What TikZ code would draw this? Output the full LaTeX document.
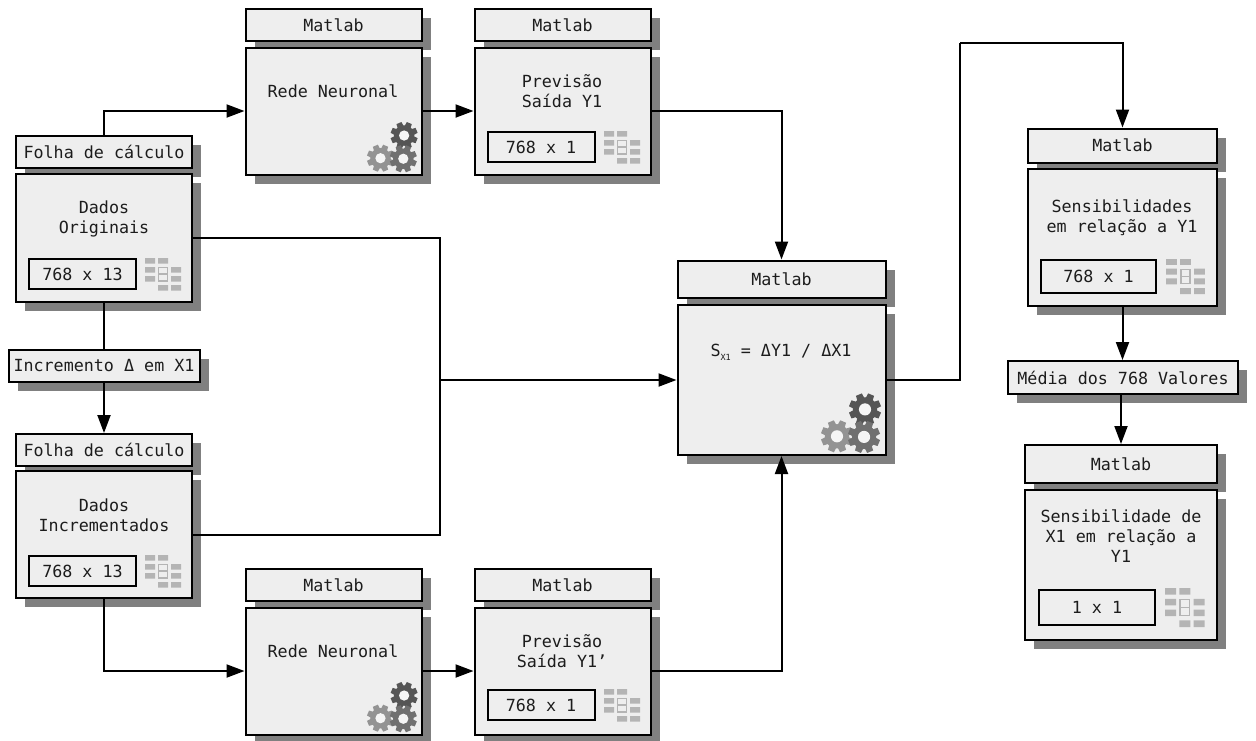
\documentclass[tikz,border=0pt]{standalone}
\usepackage{fontspec}
\setmainfont{DejaVu Sans Mono}
\usetikzlibrary{arrows.meta,shadows}
\definecolor{boxfill}{HTML}{EEEEEE}
\definecolor{shade}{HTML}{808080}
\definecolor{txt}{HTML}{1C1C1C}
\definecolor{cell}{HTML}{B4B4B4}
\definecolor{gearA}{HTML}{555555}
\definecolor{gearB}{HTML}{707070}
\definecolor{gearC}{HTML}{939393}
\newcommand{\lblfont}{\fontsize{16.7}{20}\selectfont}
\tikzset{
  boxbase/.style={draw=black,line width=2pt,fill=boxfill,text=txt,inner sep=0pt,align=center,font=\lblfont},
  shadowbox/.style={boxbase,drop shadow={shadow xshift=9pt,shadow yshift=-9pt,fill=shade,opacity=1}},
  databox/.style={draw=black,line width=2pt,fill=boxfill,text=txt,inner sep=0pt,font=\lblfont},
  label/.style={text=txt,font=\lblfont,align=center,inner sep=0pt},
  flow/.style={draw=black,line width=2pt,-{Triangle[length=18pt,width=13pt]}},
  plainflow/.style={draw=black,line width=2pt},
}
% \gearicon{x}{y}{radius}{colour}
\newcommand{\gearicon}[4]{%
  \begin{scope}[shift={(#1,#2)}]
    \foreach \a in {0,45,...,315}{
      \fill[#4,rotate=\a+22.5] (-#3*0.3,0) -- (-#3*0.2,#3) -- (#3*0.2,#3) -- (#3*0.3,0) -- cycle;
    }
    \fill[#4] (0,0) circle[radius=#3*0.76];
    \fill[boxfill!60!white] (0,0) circle[radius=#3*0.38];
  \end{scope}}
% \gears{corner x}{corner y}{radius}
\newcommand{\gears}[3]{%
  \gearicon{#1-3.0*#3}{#2-1.17*#3}{#3}{gearC}
  \gearicon{#1-1.25*#3}{#2-2.85*#3}{#3}{gearA}
  \gearicon{#1-1.31*#3}{#2-1.13*#3}{#3}{gearB}}
% \gridicon{x}{y}{xscale}{yscale}
\newcommand{\gridicon}[4]{%
  \begin{scope}[shift={(#1,#2)},xscale=#3,yscale=#4]
    \fill[cell] (0,0) rectangle +(10,5.5) (13,0) rectangle +(10,5.5);
    \fill[cell] (0,9) rectangle +(10,5.5) (26,9) rectangle +(10,5.5);
    \fill[cell] (0,18) rectangle +(10,5.5) (26,18) rectangle +(10,5.5);
    \fill[cell] (13,27) rectangle +(10,5.5) (26,27) rectangle +(10,5.5);
    \draw[cell,line width=1.4pt] (13.7,9.7) rectangle (22.3,22.8);
    \draw[cell,line width=1.4pt] (13.7,16) -- (22.3,16);
  \end{scope}}
\begin{document}
\begin{tikzpicture}[x=1pt,y=-1pt]
\useasboundingbox (0,0) rectangle (1256,740);
% left column
\node[shadowbox,minimum width=176pt,minimum height=32pt] (folhaA) at (104,152) {Folha de cálculo};
\node[shadowbox,minimum width=176pt,minimum height=128pt] (orig) at (104,238) {};
\node[label] (origT) at (104,219) {Dados\\Originais};
\node[databox,minimum width=107pt,minimum height=30pt] (origD) at (82.5,274) {768 x 13};
\gridicon{145}{258}{1}{1}
\node[shadowbox,minimum width=191pt,minimum height=32pt] (incr) at (104,366) {Incremento Δ em X1};
\node[shadowbox,minimum width=176pt,minimum height=32pt] (folhaB) at (104,450) {Folha de cálculo};
\node[shadowbox,minimum width=176pt,minimum height=127pt] (inc) at (104,534.5) {};
\node[label] (incT) at (104,515) {Dados\\Incrementados};
\node[databox,minimum width=107pt,minimum height=30pt] (incD) at (82.5,571) {768 x 13};
\gridicon{145}{555}{1}{1}
% top row
\node[shadowbox,minimum width=176pt,minimum height=32pt] (hA) at (333.5,25) {Matlab};
\node[shadowbox,minimum width=176pt,minimum height=127pt] (redeA) at (333.5,111) {};
\node[label] (redeAT) at (333,91.5) {Rede Neuronal};
\gears{421}{174}{13.5}
\node[shadowbox,minimum width=176pt,minimum height=32pt] (hB) at (562.5,25) {Matlab};
\node[shadowbox,minimum width=176pt,minimum height=127pt] (prevA) at (562.5,111) {};
\node[label] (prevAT) at (562,91) {Previsão\\Saída Y1};
\node[databox,minimum width=107pt,minimum height=30pt] (prevAD) at (541,147) {768 x 1};
\gridicon{604}{131}{1}{1}
% bottom row
\node[shadowbox,minimum width=176pt,minimum height=32pt] (hC) at (333.5,585) {Matlab};
\node[shadowbox,minimum width=176pt,minimum height=127pt] (redeB) at (333.5,671) {};
\node[label] (redeBT) at (333,651.5) {Rede Neuronal};
\gears{421}{734}{13.5}
\node[shadowbox,minimum width=176pt,minimum height=32pt] (hD) at (562.5,585) {Matlab};
\node[shadowbox,minimum width=176pt,minimum height=127pt] (prevB) at (562.5,671) {};
\node[label] (prevBT) at (562,651) {Previsão\\Saída Y1'};
\node[databox,minimum width=107pt,minimum height=30pt] (prevBD) at (541,705) {768 x 1};
\gridicon{604}{689}{1}{1}
% centre
\node[shadowbox,minimum width=208pt,minimum height=37pt] (hM) at (781.5,279) {Matlab};
\node[shadowbox,minimum width=208pt,minimum height=150pt] (calc) at (781.5,380) {};
\node[label] (calcT) at (781,352) {S\raisebox{-0.4ex}{\fontsize{8.5}{8.5}\selectfont X1} = ΔY1 / ΔX1};
\gears{885}{455}{16}
% right column
\node[shadowbox,minimum width=189pt,minimum height=34pt] (hR) at (1122.5,145.5) {Matlab};
\node[shadowbox,minimum width=189pt,minimum height=137pt] (sens) at (1122.5,237.5) {};
\node[label] (sensT) at (1122,218) {Sensibilidades\\em relação a Y1};
\node[databox,minimum width=115pt,minimum height=33pt] (sensD) at (1098.5,276.5) {768 x 1};
\gridicon{1166}{259}{1.08}{1.08}
\node[shadowbox,minimum width=230pt,minimum height=33pt] (media) at (1123,377.5) {Média dos 768 Valores};
\node[shadowbox,minimum width=192pt,minimum height=38pt] (hS) at (1121,464) {Matlab};
\node[shadowbox,minimum width=192pt,minimum height=150pt] (final) at (1121,565) {};
\node[label] (finalT) at (1121,536) {Sensibilidade de\\X1 em relação a\\Y1};
\node[databox,minimum width=116pt,minimum height=35pt] (finalD) at (1097,607.5) {1 x 1};
\gridicon{1165}{588}{1.1}{1.2}
% connectors
\coordinate (join) at (440,380);
\coordinate (over) at (960,43);
\draw[flow] (folhaA.north) |- (redeA.west);
\draw[flow] (redeA.east) -- (prevA.west);
\draw[flow] (prevA.east) -| (hM.north);
\draw[plainflow] (orig.east) -| (join);
\draw[plainflow] (inc.east) -| (join);
\draw[flow] (join) -- (calc.west);
\draw[plainflow] (orig.south) -- (incr.north);
\draw[flow] (incr.south) -- (folhaB.north);
\draw[flow] (inc.south) |- (redeB.west);
\draw[flow] (redeB.east) -- (prevB.west);
\draw[flow] (prevB.east) -| (calc.south);
\draw[plainflow] (calc.east) -| (over);
\draw[flow] (over) -| (hR.north);
\draw[flow] (sens.south) -- (sens.south |- media.north);
\draw[flow] (media.south -| hS.north) -- (hS.north);
\end{tikzpicture}
\end{document}
